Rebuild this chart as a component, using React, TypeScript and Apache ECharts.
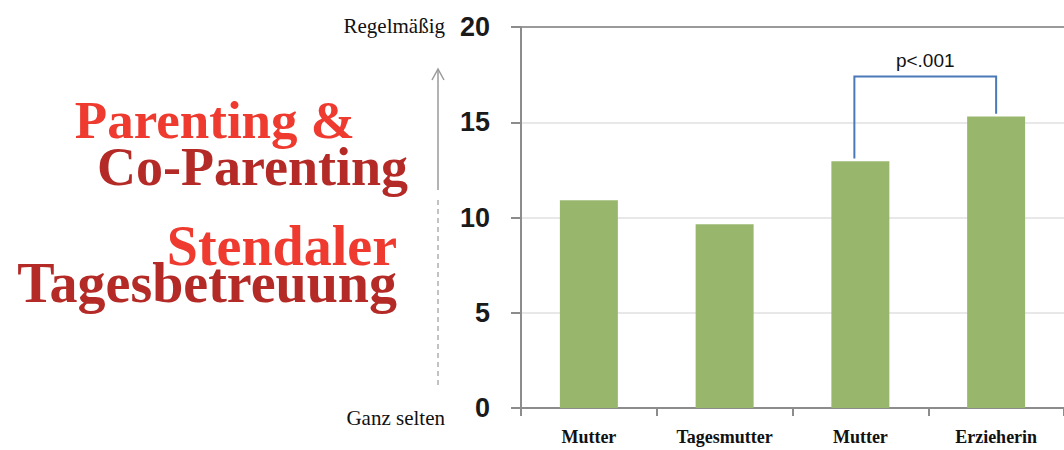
import React, { useEffect, useRef } from "react";
import * as echarts from "echarts";

const categories = ["Mutter", "Tagesmutter", "Mutter", "Erzieherin"];
const values = [10.9, 9.65, 12.95, 15.3];
const yMin = 0;
const yMax = 20;
const yInterval = 5;
const bracketPair = [2, 3];
const bracketLevel = 17.4;
const bracketGap = 0.15;
const bracketLabel = "p<.001";
const titleTop = ["Parenting &", "Co-Parenting"];
const titleBottom = ["Stendaler", "Tagesbetreuung"];
const scaleTop = "Regelmäßig";
const scaleBottom = "Ganz selten";

export default function App() {
  const ref = useRef<HTMLDivElement>(null);
  useEffect(() => {
    const chart = echarts.init(ref.current!, null, { renderer: "svg" });
    chart.setOption({
      animation: false,
      backgroundColor: "#ffffff",
      grid: { left: 521, top: 27, width: 550, height: 381, containLabel: false },
      xAxis: {
        type: "category",
        data: categories,
        axisLine: { show: true, lineStyle: { color: "#8c8c8c", width: 2 } },
        axisTick: { show: true, length: 8, lineStyle: { color: "#8c8c8c", width: 2 } },
        axisLabel: {
          margin: 20,
          color: "#111",
          fontFamily: "Liberation Serif",
          fontWeight: "bold",
          fontSize: 18,
        },
      },
      yAxis: {
        type: "value",
        min: yMin,
        max: yMax,
        interval: yInterval,
        axisLine: { show: true, lineStyle: { color: "#8c8c8c", width: 2 } },
        axisTick: { show: true, length: 10, lineStyle: { color: "#8c8c8c", width: 2 } },
        axisLabel: {
          margin: 31,
          color: "#1a1a1a",
          fontFamily: "Liberation Sans",
          fontWeight: "bold",
          fontSize: 27,
        },
        splitLine: {
          show: true,
          lineStyle: {
            color: ["#e4e4e4", "#e8e8e8", "#e8e8e8", "#e8e8e8", "#9a9a9a"],
            width: 2,
          },
        },
      },
      series: [
        {
          type: "bar",
          data: values,
          barWidth: 58,
          itemStyle: { color: "#98b76d" },
        },
      ],
    });

    const pt = (i: number, v: number) =>
      chart.convertToPixel({ gridIndex: 0 }, [i, v]) as number[];
    const [a, b] = bracketPair;
    const pA = pt(a, values[a] + bracketGap);
    const pB = pt(b, values[b] + bracketGap);
    const pTopA = pt(a, bracketLevel);
    const pTopB = pt(b, bracketLevel);
    const leftShift = -6;

    const serif = "Liberation Serif";
    const titleColorLight = "#ee3a2f";
    const titleColorDark = "#b42a26";

    chart.setOption({
      graphic: [
        {
          type: "polyline",
          shape: {
            points: [
              [pA[0] + leftShift, pA[1]],
              [pTopA[0] + leftShift, pTopA[1]],
              [pTopB[0], pTopB[1]],
              [pB[0], pB[1]],
            ],
          },
          style: { stroke: "#4a79b8", lineWidth: 2, fill: null },
          z: 10,
        },
        {
          type: "text",
          style: {
            text: bracketLabel,
            x: (pTopA[0] + leftShift + pTopB[0]) / 2,
            y: pTopA[1] - 16,
            align: "center",
            verticalAlign: "middle",
            fill: "#111",
            fontFamily: "Liberation Sans",
            fontSize: 19,
          },
          z: 10,
        },
        // scale arrow
        {
          type: "line",
          shape: { x1: 438, y1: 190, x2: 438, y2: 70 },
          style: { stroke: "#9a9a9a", lineWidth: 1.5 },
        },
        {
          type: "polyline",
          shape: { points: [[432, 80], [438, 69], [444, 80]] },
          style: { stroke: "#9a9a9a", lineWidth: 1.5, fill: null },
        },
        {
          type: "line",
          shape: { x1: 438, y1: 200, x2: 438, y2: 386 },
          style: { stroke: "#9a9a9a", lineWidth: 1.2, lineDash: [5, 4] },
        },
        {
          type: "text",
          style: {
            text: scaleTop,
            x: 445,
            y: 26,
            align: "right",
            verticalAlign: "middle",
            fill: "#111",
            fontFamily: serif,
            fontSize: 21,
          },
        },
        {
          type: "text",
          style: {
            text: scaleBottom,
            x: 445,
            y: 418,
            align: "right",
            verticalAlign: "middle",
            fill: "#111",
            fontFamily: serif,
            fontSize: 21,
          },
        },
        // titles
        {
          type: "text",
          style: {
            text: titleTop[0],
            x: 355,
            y: 120,
            align: "right",
            verticalAlign: "middle",
            fill: titleColorLight,
            fontFamily: serif,
            fontWeight: "bold",
            fontSize: 53,
          },
        },
        {
          type: "text",
          style: {
            text: titleTop[1],
            x: 408,
            y: 167,
            align: "right",
            verticalAlign: "middle",
            fill: titleColorDark,
            fontFamily: serif,
            fontWeight: "bold",
            fontSize: 54,
          },
        },
        {
          type: "text",
          style: {
            text: titleBottom[0],
            x: 397,
            y: 246,
            align: "right",
            verticalAlign: "middle",
            fill: titleColorLight,
            fontFamily: serif,
            fontWeight: "bold",
            fontSize: 56,
          },
        },
        {
          type: "text",
          style: {
            text: titleBottom[1],
            x: 397,
            y: 283,
            align: "right",
            verticalAlign: "middle",
            fill: titleColorDark,
            fontFamily: serif,
            fontWeight: "bold",
            fontSize: 56,
          },
        },
      ],
    });
    return () => chart.dispose();
  }, []);
  return (
    <div
      ref={ref}
      style={{ position: "fixed", left: 0, top: 0, width: 1064, height: 450 }}
    />
  );
}
